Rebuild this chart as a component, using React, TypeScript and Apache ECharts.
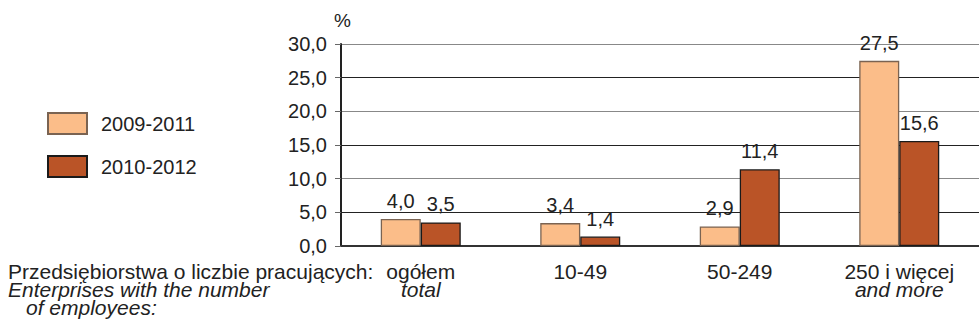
import React, { useEffect, useRef } from "react";
import * as echarts from "echarts";

const categories = ["ogółem\n{i|total}", "10-49", "50-249", "250 i więcej\n{i|and more}"];
const seriesNames = ["2009-2011", "2010-2012"];
const values2009 = [4.0, 3.4, 2.9, 27.5];
const values2010 = [3.5, 1.4, 11.4, 15.6];
const yTicks = { min: 0, max: 30, interval: 5 };
const leftLines = ["Przedsiębiorstwa o liczbie pracujących:", "Enterprises with the number", "of employees:"];

const FONT = "'Liberation Sans', Arial, sans-serif";
const fmt = (v: number) => v.toFixed(1).replace(".", ",");

export default function App() {
  const ref = useRef<HTMLDivElement>(null);
  useEffect(() => {
    if (!ref.current) return;
    const chart = echarts.init(ref.current, undefined, { renderer: "svg" });
    const fs = 21;
    const lh = 18;
    chart.setOption({
      animation: false,
      textStyle: { fontFamily: FONT },
      grid: { left: 341, top: 44, width: 642, height: 202 },
      legend: {
        orient: "vertical",
        left: 47,
        top: 112,
        padding: 0,
        itemWidth: 39,
        itemHeight: 21,
        itemGap: 20,
        icon: "rect",
        textStyle: { fontSize: 20, color: "#222", fontFamily: FONT, padding: [0, 0, 0, 9] },
        data: seriesNames,
      },
      xAxis: {
        type: "category",
        data: categories,
        axisLine: { show: true, lineStyle: { color: "#333", width: 2 } },
        axisTick: { show: false },
        axisLabel: {
          margin: 16,
          fontSize: fs,
          lineHeight: lh,
          color: "#222",
          fontFamily: FONT,
          interval: 0,
          rich: { i: { fontStyle: "italic", fontSize: fs, lineHeight: lh, color: "#222", fontFamily: FONT } },
        },
      },
      yAxis: {
        type: "value",
        min: yTicks.min,
        max: yTicks.max,
        interval: yTicks.interval,
        axisLine: { show: true, lineStyle: { color: "#222", width: 2 } },
        axisTick: { show: true, length: 6, lineStyle: { color: "#666", width: 1 } },
        axisLabel: { margin: 14, fontSize: 20, color: "#222", fontFamily: FONT, formatter: (v: number) => fmt(v) },
        splitLine: { show: true, lineStyle: { color: ["#888", "#222"], width: 1.2 } },
      },
      graphic: [
        { type: "text", left: 334, top: 11, style: { text: "%", fontSize: 19, fill: "#222", fontFamily: FONT } },
        { type: "text", x: 8, y: 271, style: { text: leftLines[0], fontSize: fs, fill: "#222", fontFamily: FONT, verticalAlign: "middle" } },
        { type: "text", x: 8, y: 271 + lh, style: { text: leftLines[1], fontSize: fs, fontStyle: "italic", fill: "#222", fontFamily: FONT, verticalAlign: "middle" } },
        { type: "text", x: 26, y: 271 + 2 * lh, style: { text: leftLines[2], fontSize: fs, fontStyle: "italic", fill: "#222", fontFamily: FONT, verticalAlign: "middle" } },
      ],
      series: [
        {
          name: seriesNames[0],
          type: "bar",
          data: values2009,
          barWidth: 40,
          barGap: "0%",
          itemStyle: { color: "#FBBD89", borderColor: "#7a6352", borderWidth: 1.3 },
          label: { show: true, position: "top", distance: 8, fontSize: 20, color: "#222", fontFamily: FONT, formatter: (p: any) => fmt(p.value) },
        },
        {
          name: seriesNames[1],
          type: "bar",
          data: values2010,
          barWidth: 40,
          barGap: "0%",
          itemStyle: { color: "#BA5427", borderColor: "#1a1a1a", borderWidth: 1.3 },
          label: { show: true, position: "top", distance: 8, fontSize: 20, color: "#222", fontFamily: FONT, formatter: (p: any) => fmt(p.value) },
        },
      ],
    });
    return () => chart.dispose();
  }, []);
  return <div ref={ref} style={{ width: 979, height: 327, position: "absolute", left: 0, top: 0 }} />;
}
